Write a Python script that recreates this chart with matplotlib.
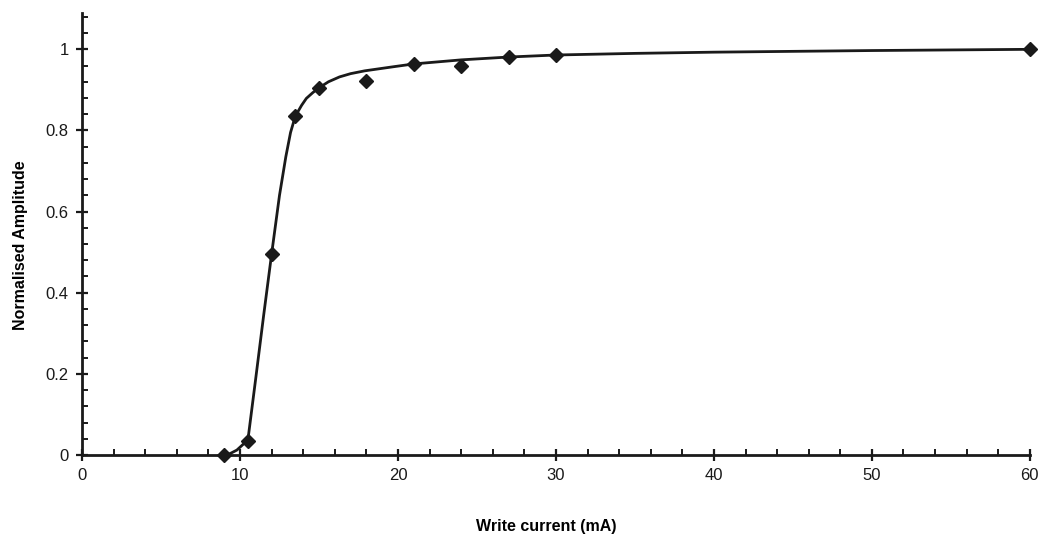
import matplotlib.pyplot as plt
from matplotlib.ticker import MultipleLocator

plt.rcParams['font.family'] = ['Liberation Sans', 'DejaVu Sans']

# measured points
current = [9, 10.5, 12, 13.5, 15, 18, 21, 24, 27, 30, 60]
amplitude = [0.0, 0.035, 0.495, 0.835, 0.905, 0.922, 0.965, 0.96, 0.98, 0.987, 1.0]

# fitted curve
fit_x = [9.2, 9.8, 10.5, 11.0, 11.5, 12.0, 12.5, 12.9, 13.2, 13.5, 13.9, 14.2,
         14.6, 15.0, 15.6, 16.3, 17.0, 17.9, 19.7, 21.0, 24.0, 27.0, 30.0,
         35.0, 40.0, 50.0, 60.0]
fit_y = [0.0, 0.012, 0.037, 0.19, 0.345, 0.495, 0.64, 0.735, 0.795, 0.835, 0.862, 0.879,
         0.893, 0.905, 0.92, 0.932, 0.94, 0.947, 0.957, 0.964, 0.974, 0.981, 0.986,
         0.99, 0.993, 0.997, 1.0]

fig = plt.figure(figsize=(10.45, 5.34), dpi=100)
ax = fig.add_axes([0.0785, 0.148, 0.907, 0.828])

ax.plot(fit_x, fit_y, color='#1a1a1a', lw=2.0, zorder=2)
ax.plot(current, amplitude, 'D', color='#1a1a1a', ms=7, zorder=3, clip_on=False)

ax.set_xlim(0, 60)
ax.set_ylim(0, 1.09)
ax.xaxis.set_major_locator(MultipleLocator(10))
ax.xaxis.set_minor_locator(MultipleLocator(2))
ax.yaxis.set_major_locator(MultipleLocator(0.2))
ax.yaxis.set_minor_locator(MultipleLocator(0.04))
ax.yaxis.set_major_formatter(plt.FuncFormatter(lambda v, p: '%g' % round(v, 2)))

for s in ['top', 'right']:
    ax.spines[s].set_visible(False)
for s in ['left', 'bottom']:
    ax.spines[s].set_linewidth(2.0)
    ax.spines[s].set_color('#1a1a1a')

ax.tick_params(which='major', direction='inout', length=9, width=1.6,
               labelsize=12, colors='#1a1a1a', pad=5)
ax.tick_params(which='minor', direction='in', length=4, width=1.4, colors='#1a1a1a')

ax.set_xlabel('Write current (mA)', fontsize=11.5, fontweight='bold')
ax.set_ylabel('Normalised Amplitude', fontsize=11.5, fontweight='bold')
ax.xaxis.set_label_coords(0.49, -0.145)
ax.yaxis.set_label_coords(-0.057, 0.475)

fig.savefig('out.png', dpi=100)
